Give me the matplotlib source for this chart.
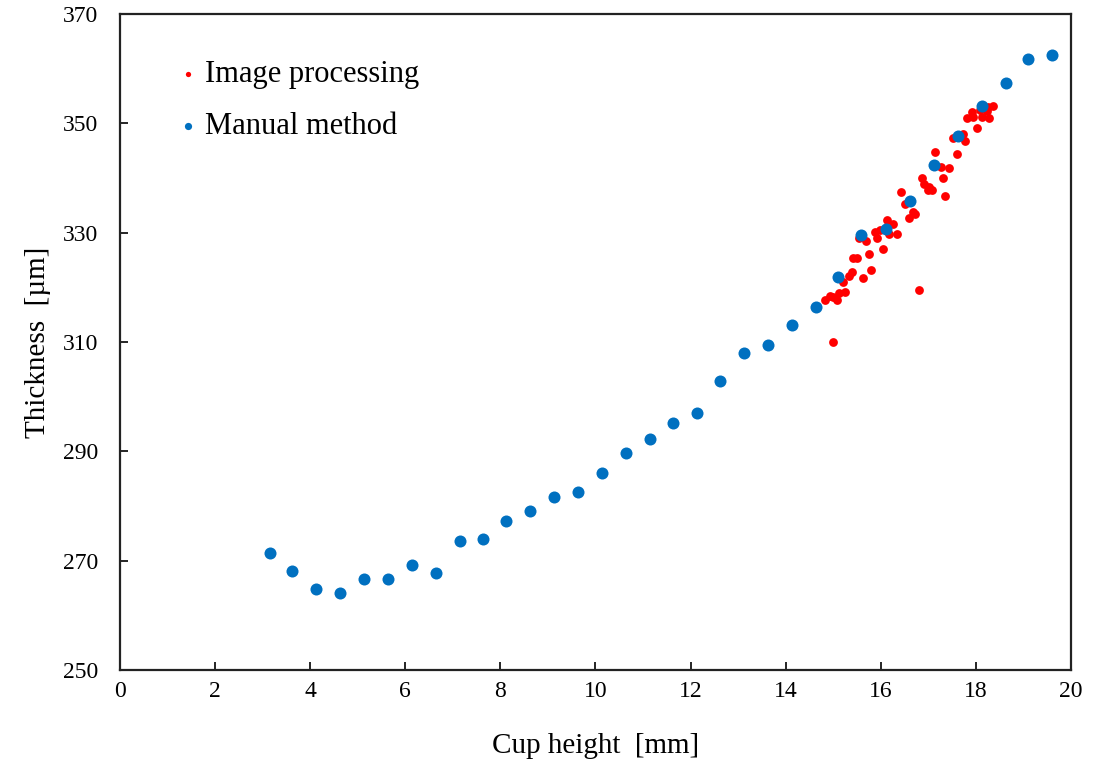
import matplotlib.pyplot as plt

plt.rcParams['font.family'] = ['Liberation Serif', 'DejaVu Serif']

# Manual method (blue)
manual_x = [3.15, 3.62, 4.12, 4.63, 5.13, 5.64, 6.14, 6.65, 7.15, 7.63,
            8.12, 8.62, 9.13, 9.63, 10.14, 10.64, 11.15, 11.63, 12.13, 12.62,
            13.12, 13.63, 14.13, 14.64, 15.10, 15.58, 16.11, 16.61, 17.12, 17.62,
            18.13, 18.63, 19.10, 19.60]
manual_y = [271.4, 268.1, 264.8, 264.1, 266.7, 266.7, 269.2, 267.8, 273.6, 274.0,
            277.3, 279.1, 281.7, 282.6, 286.0, 289.7, 292.3, 295.2, 297.0, 302.9,
            308.0, 309.5, 313.1, 316.4, 321.9, 329.6, 330.7, 335.8, 342.4, 347.7,
            353.2, 357.4, 361.8, 362.5]

# Image processing (red)
image_x = [14.83, 14.93, 15.00, 15.09, 15.13, 15.25, 15.21, 15.34, 15.39, 15.63,
           15.79, 15.42, 15.51, 15.76, 16.05, 15.55, 15.68, 15.88, 15.93, 15.98,
           16.14, 16.26, 16.18, 16.35, 16.60, 16.72, 16.68, 16.51, 16.42, 16.81,
           16.86, 16.91, 16.99, 17.07, 17.02, 17.35, 17.31, 17.14, 17.26, 17.44,
           17.61, 17.51, 17.73, 17.78, 18.03, 17.81, 17.91, 17.95, 18.09, 18.12,
           18.28, 18.23, 18.37, 18.25, 14.99]
image_y = [317.6, 318.4, 318.3, 317.7, 318.9, 319.2, 320.9, 322.0, 322.8, 321.7,
           323.1, 325.3, 325.3, 326.1, 327.1, 329.0, 328.5, 330.1, 329.0, 330.5,
           332.3, 331.5, 329.7, 329.7, 332.6, 333.4, 333.8, 335.2, 337.4, 319.5,
           340.0, 338.9, 337.8, 337.8, 338.4, 336.7, 340.0, 344.7, 342.1, 341.8,
           344.3, 347.3, 348.0, 346.8, 349.1, 350.9, 352.0, 351.2, 352.4, 351.2,
           350.9, 352.3, 353.2, 353.0, 310.0]

x_ticks = [0, 2, 4, 6, 8, 10, 12, 14, 16, 18, 20]
y_ticks = [250, 270, 290, 310, 330, 350, 370]

fig = plt.figure(figsize=(11.09, 7.6), dpi=100)
ax = fig.add_axes([0.1082, 0.1184, 0.8575, 0.8632])

ax.scatter(image_x, image_y, s=40, color='#ff0000', linewidths=0,
           label='Image processing', zorder=2)
ax.scatter(manual_x, manual_y, s=75, color='#0070c0', linewidths=0,
           label='Manual method', zorder=3)

ax.set_xlim(0, 20)
ax.set_ylim(250, 370)
ax.set_xticks(x_ticks)
ax.set_yticks(y_ticks)
ax.tick_params(direction='in', length=6, width=1.2, labelsize=17)
ax.tick_params(axis='x', pad=8)
ax.tick_params(axis='y', pad=16)
for sp in ax.spines.values():
    sp.set_linewidth(1.6)
    sp.set_color('#222222')

ax.set_xlabel('Cup height  [mm]', fontsize=21, labelpad=22)
ax.set_ylabel('Thickness  [\u00b5m]', fontsize=21, labelpad=8)

ax.legend(loc='upper left', bbox_to_anchor=(0.027, 0.972), frameon=False,
          fontsize=22, markerscale=0.6, handletextpad=0.05,
          handlelength=1.0, labelspacing=0.75)

fig.savefig('out.png', dpi=100)
